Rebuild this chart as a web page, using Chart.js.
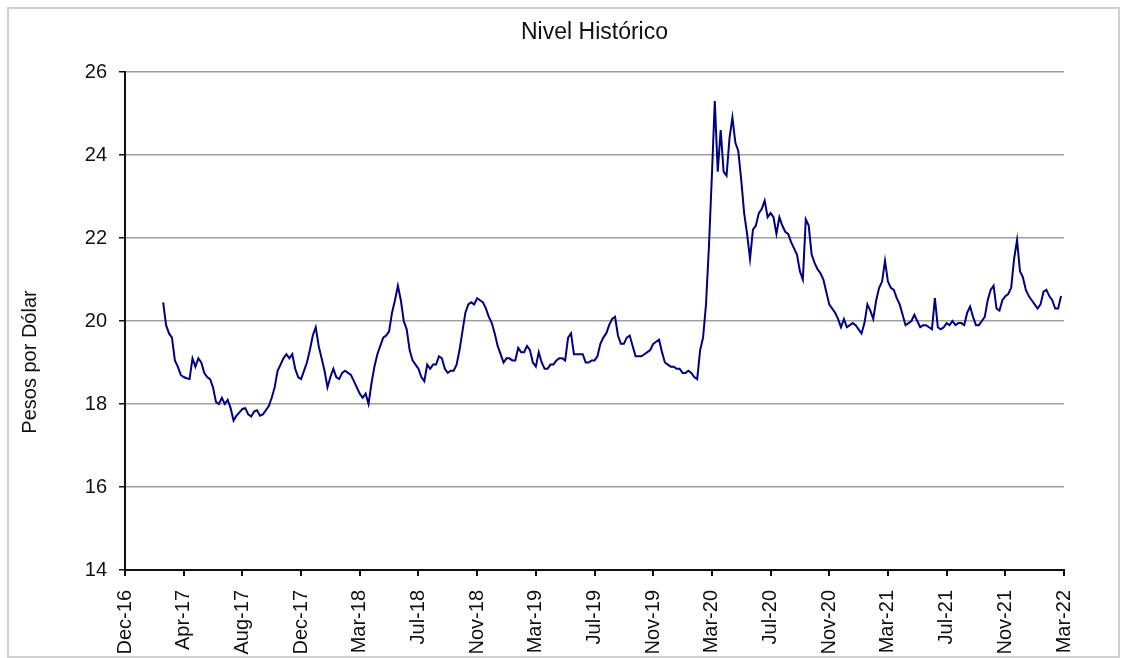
<!DOCTYPE html>
<html>
<head>
<meta charset="utf-8">
<title>Nivel Histórico</title>
<script src="https://cdn.jsdelivr.net/npm/chart.js@4.4.1/dist/chart.umd.min.js"></script>
<style>
  html, body { margin: 0; padding: 0; background: #fff; }
  #wrap { position: relative; width: 1126px; height: 658px; }
  #frame {
    position: absolute; left: 7px; top: 7px; width: 1113px; height: 651px;
    box-sizing: border-box; border: 2px solid #d0d0d0; pointer-events: none;
  }
  canvas { position: absolute; left: 0; top: 0; }
</style>
</head>
<body>
<div id="wrap">
  <canvas id="chart" width="1126" height="658"></canvas>
  <div id="frame"></div>
</div>
<script>
// ---- Data ----
// x axis: one slot per reading, a month label every 20 slots
const monthLabels = ['Dec-16', 'Apr-17', 'Aug-17', 'Dec-17', 'Mar-18', 'Jul-18', 'Nov-18', 'Mar-19',
  'Jul-19', 'Nov-19', 'Mar-20', 'Jul-20', 'Nov-20', 'Mar-21', 'Jul-21', 'Nov-21', 'Mar-22'];
const slotsPerLabel = 20;
const firstSlot = 13;   // first reading sits a little after Dec-16

// pesos per dollar
const rate = [
  20.45, 19.9, 19.7, 19.6, 19.05, 18.9, 18.7, 18.65, 18.62, 18.6,
  19.1, 18.9, 19.1, 19.0, 18.75, 18.65, 18.6, 18.4, 18.05, 18.0,
  18.15, 18.0, 18.1, 17.9, 17.6, 17.72, 17.8, 17.88, 17.9, 17.75,
  17.7, 17.82, 17.85, 17.72, 17.75, 17.85, 17.95, 18.15, 18.4, 18.8,
  18.95, 19.1, 19.2, 19.1, 19.2, 18.85, 18.65, 18.6, 18.8, 19.0,
  19.3, 19.65, 19.85, 19.4, 19.1, 18.8, 18.4, 18.65, 18.85, 18.65,
  18.6, 18.75, 18.8, 18.75, 18.7, 18.55, 18.4, 18.25, 18.15, 18.25,
  18.0, 18.5, 18.9, 19.2, 19.4, 19.6, 19.65, 19.75, 20.2, 20.5,
  20.85, 20.5, 20.0, 19.8, 19.3, 19.05, 18.95, 18.85, 18.65, 18.55,
  18.95, 18.85, 18.95, 18.95, 19.15, 19.1, 18.85, 18.75, 18.8, 18.8,
  18.95, 19.3, 19.75, 20.2, 20.4, 20.45, 20.4, 20.55, 20.5, 20.45,
  20.3, 20.1, 19.95, 19.7, 19.4, 19.2, 19.0, 19.1, 19.1, 19.05,
  19.05, 19.35, 19.25, 19.25, 19.4, 19.3, 19.0, 18.9, 19.25, 19.0,
  18.85, 18.85, 18.95, 18.95, 19.05, 19.1, 19.1, 19.05, 19.6, 19.7,
  19.2, 19.2, 19.2, 19.2, 19.0, 19.0, 19.05, 19.05, 19.15, 19.45,
  19.6, 19.7, 19.9, 20.05, 20.1, 19.65, 19.45, 19.45, 19.6, 19.65,
  19.4, 19.15, 19.15, 19.15, 19.2, 19.25, 19.3, 19.45, 19.5, 19.55,
  19.25, 19.0, 18.95, 18.9, 18.9, 18.85, 18.85, 18.75, 18.75, 18.8,
  18.75, 18.65, 18.6, 19.3, 19.6, 20.4, 21.8, 23.5, 25.3, 23.6,
  24.6, 23.6, 23.5, 24.4, 24.9, 24.3, 24.1, 23.4, 22.6, 22.1,
  21.5, 22.2, 22.3, 22.6, 22.7, 22.9, 22.5, 22.6, 22.5, 22.1,
  22.5, 22.3, 22.15, 22.1, 21.9, 21.75, 21.6, 21.2, 21.0, 22.45,
  22.3, 21.6, 21.4, 21.25, 21.15, 21.0, 20.7, 20.4, 20.3, 20.2,
  20.05, 19.85, 20.05, 19.85, 19.9, 19.95, 19.9, 19.8, 19.7, 19.95,
  20.4, 20.25, 20.05, 20.5, 20.8, 20.95, 21.45, 20.95, 20.8, 20.75,
  20.55, 20.4, 20.15, 19.9, 19.95, 20.0, 20.15, 20.0, 19.85, 19.9,
  19.9, 19.85, 19.8, 20.55, 19.85, 19.8, 19.85, 19.95, 19.9, 20.0,
  19.9, 19.95, 19.95, 19.9, 20.2, 20.35, 20.1, 19.9, 19.9, 20.0,
  20.1, 20.5, 20.75, 20.85, 20.3, 20.25, 20.5, 20.6, 20.65, 20.8,
  21.5, 21.95, 21.2, 21.05, 20.75, 20.6, 20.5, 20.4, 20.3, 20.4,
  20.7, 20.75, 20.6, 20.5, 20.3, 20.3, 20.6
];

const yMin = 14, yMax = 26, yStep = 2;

const FONT = '"Liberation Sans", Arial, sans-serif';

// y axis title sits lower than the plot centre in the original
const yTitlePlugin = {
  id: 'yTitle',
  afterDraw(chart) {
    const { ctx, chartArea } = chart;
    ctx.save();
    ctx.translate(chartArea.left - 95, chartArea.top + 290);
    ctx.rotate(-Math.PI / 2);
    ctx.font = '20px ' + FONT;
    ctx.fillStyle = '#111';
    ctx.textAlign = 'center';
    ctx.textBaseline = 'middle';
    ctx.fillText('Pesos por Dólar', 0, 0);
    ctx.restore();
  }
};

const points = rate.map((v, k) => ({ x: firstSlot + k, y: v }));

new Chart(document.getElementById('chart').getContext('2d'), {
  type: 'line',
  data: {
    datasets: [{
      label: 'Nivel Histórico',
      data: points,
      borderColor: '#000080',
      borderWidth: 2,
      pointRadius: 0,
      tension: 0,
      fill: false
    }]
  },
  options: {
    responsive: false,
    animation: false,
    devicePixelRatio: 1,
    layout: { padding: { left: 8, right: 62, top: 0, bottom: 0 } },
    plugins: {
      legend: { display: false },
      tooltip: { enabled: false },
      title: {
        display: true,
        fullSize: false,
        text: 'Nivel Histórico',
        color: '#111',
        font: { family: FONT, size: 23, weight: 'normal' },
        padding: { top: 19, bottom: 25.4 }
      }
    },
    scales: {
      x: {
        type: 'linear',
        min: 0,
        max: (monthLabels.length - 1) * slotsPerLabel,
        afterFit: (scale) => { scale.height = 88; },
        grid: { display: true, drawOnChartArea: false, drawTicks: true, tickLength: 6, tickColor: '#111', lineWidth: 2 },
        border: { display: true, color: '#111', width: 2 },
        ticks: {
          stepSize: slotsPerLabel,
          autoSkip: false,
          minRotation: 90,
          maxRotation: 90,
          padding: 14,
          color: '#111',
          font: { family: FONT, size: 20 },
          callback: (v) => monthLabels[Math.round(v / slotsPerLabel)]
        }
      },
      y: {
        min: yMin,
        max: yMax,
        afterFit: (scale) => { scale.width = 117; },
        grid: {
          color: (c) => (c.tick && c.tick.value === yMin ? 'rgba(0,0,0,0)' : '#a0a0a0'),
          lineWidth: 1.5,
          drawTicks: true,
          tickLength: 6,
          tickColor: '#111'
        },
        border: { display: true, color: '#111', width: 2 },
        ticks: {
          stepSize: yStep,
          padding: 12,
          color: '#111',
          font: { family: FONT, size: 20 }
        }
      }
    }
  },
  plugins: [yTitlePlugin]
});
</script>
</body>
</html>
